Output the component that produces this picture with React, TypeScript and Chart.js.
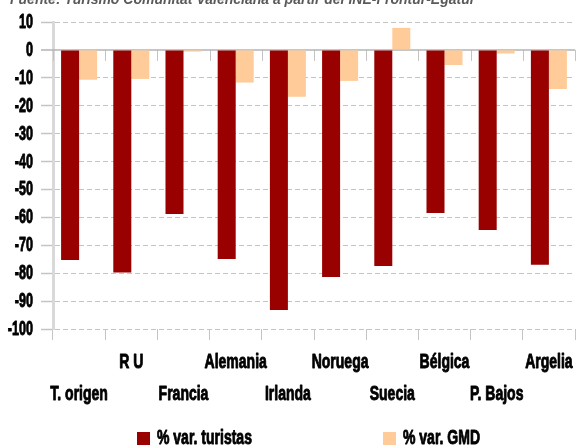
import React, { useEffect, useRef } from 'react';
import { Chart, registerables } from 'chart.js';

Chart.register(...registerables);

const categories = ['T. origen', 'R U', 'Francia', 'Alemania', 'Irlanda', 'Noruega', 'Suecia', 'Bélgica', 'P. Bajos', 'Argelia'];
const turistas = [-75.3, -79.8, -58.8, -74.9, -93.2, -81.4, -77.4, -58.4, -64.5, -77.0];
const gmd = [-10.7, -10.4, -0.6, -11.7, -16.8, -11.1, 7.9, -5.4, -1.3, -14.0];
const seriesNames = ['% var. turistas', '% var. GMD'];
const seriesColors = ['#990000', '#FFCC99'];
const yMin = -100;
const yMax = 10;
const yStep = 10;
const sourceNote = 'Fuente: Turismo Comunitat Valenciana a partir del INE-Frontur-Egatur';

const LABEL_FONT = "bold 20px 'Liberation Sans', Arial, sans-serif";
const X_SQUEEZE = 0.7;
const Y_SQUEEZE = 0.63;

function drawSqueezed(ctx: CanvasRenderingContext2D, text: string, x: number, y: number, align: CanvasTextAlign, sx: number) {
  ctx.save();
  ctx.translate(x, y);
  ctx.scale(sx, 1);
  ctx.textAlign = align;
  ctx.lineWidth = 0.9;
  ctx.lineJoin = 'round';
  ctx.strokeStyle = ctx.fillStyle as string;
  ctx.fillText(text, 0, 0);
  ctx.strokeText(text, 0, 0);
  ctx.restore();
}

const zeroLinePlugin = {
  id: 'zeroLine',
  beforeDatasetsDraw(chart: any) {
    const { ctx, chartArea, scales } = chart;
    const y0 = scales.y.getPixelForValue(0);
    const n = categories.length;
    const step = (chartArea.right - chartArea.left) / n;
    ctx.save();
    ctx.strokeStyle = '#c4c4c4';
    ctx.lineWidth = 1;
    for (let i = 0; i <= n; i++) {
      const x = Math.round(chartArea.left + i * step) + 0.5;
      ctx.beginPath();
      ctx.moveTo(x, y0);
      ctx.lineTo(x, y0 + 11);
      ctx.stroke();
    }
    ctx.strokeStyle = '#b3b3b3';
    ctx.lineWidth = 1.5;
    ctx.beginPath();
    ctx.moveTo(chartArea.left - 12, y0);
    ctx.lineTo(chartArea.right, y0);
    ctx.stroke();
    ctx.restore();
  },
};

const labelsPlugin = {
  id: 'squeezedLabels',
  afterDraw(chart: any) {
    const { ctx, chartArea, scales } = chart;
    ctx.save();
    // source note (clipped at the top, as in the original crop)
    ctx.font = "italic bold 14px 'Liberation Sans', Arial, sans-serif";
    ctx.fillStyle = '#5a5a5a';
    ctx.textBaseline = 'alphabetic';
    ctx.textAlign = 'left';
    ctx.fillText(sourceNote, 10, 4);

    ctx.font = LABEL_FONT;
    ctx.fillStyle = '#000';

    // y tick labels
    const ys = scales.y;
    ctx.textBaseline = 'middle';
    ys.ticks.forEach((t: any, i: number) => {
      const y = ys.getPixelForTick(i);
      drawSqueezed(ctx, String(t.value), chartArea.left - 20, y + 0.5, 'right', Y_SQUEEZE);
    });

    // x tick labels (two staggered rows)
    const xs = scales.x;
    ctx.textBaseline = 'alphabetic';
    categories.forEach((c, i) => {
      const x = xs.getPixelForTick(i);
      const y = chartArea.bottom + (i % 2 === 0 ? 70.5 : 38.5);
      drawSqueezed(ctx, c, x, y, 'center', X_SQUEEZE);
    });

    // legend
    const cx = (chartArea.left + chartArea.right) / 2;
    const offsets = [-177, 69];
    const boxTop = chart.height - 13;
    chart.data.datasets.forEach((ds: any, i: number) => {
      const bx = cx + offsets[i];
      ctx.fillStyle = ds.backgroundColor;
      ctx.fillRect(bx, boxTop, 13, 13);
      ctx.fillStyle = '#000';
      drawSqueezed(ctx, ds.label, bx + 20, chart.height - 0.7, 'left', X_SQUEEZE);
    });
    ctx.restore();
  },
};

export default function App() {
  const canvasRef = useRef<HTMLCanvasElement | null>(null);

  useEffect(() => {
    document.body.style.margin = '0';
    const canvas = canvasRef.current;
    if (!canvas) return;
    const chart = new Chart(canvas, {
      type: 'bar',
      data: {
        labels: categories,
        datasets: [
          { label: seriesNames[0], data: turistas, backgroundColor: seriesColors[0], borderWidth: 0, categoryPercentage: 0.69, barPercentage: 1 },
          { label: seriesNames[1], data: gmd, backgroundColor: seriesColors[1], borderWidth: 0, categoryPercentage: 0.69, barPercentage: 1 },
        ],
      },
      options: {
        responsive: false,
        animation: false,
        layout: { padding: { top: 22, right: 1, bottom: 105, left: 0 } },
        plugins: { legend: { display: false }, tooltip: { enabled: false }, title: { display: false } },
        scales: {
          x: {
            offset: true,
            grid: { offset: true, drawOnChartArea: false, drawTicks: true, tickLength: 11, color: '#c4c4c4', lineWidth: 1 },
            border: { display: false },
            ticks: { display: false, autoSkip: false, maxRotation: 0 },
          },
          y: {
            min: yMin,
            max: yMax,
            afterFit: (s: any) => { s.width = 53; },
            grid: {
              color: (c: any) => (c.tick && c.tick.value === 0 ? 'rgba(0,0,0,0)' : '#c4c4c4'),
              tickColor: (c: any) => (c.tick && c.tick.value === 0 ? 'rgba(0,0,0,0)' : '#c4c4c4'),
              lineWidth: 1,
              tickWidth: 1.5,
              tickLength: 12,
            },
            border: { display: true, color: '#d9d9d9', width: 3, dash: [5, 3] },
            ticks: { display: false, stepSize: yStep },
          },
        },
      },
      plugins: [zeroLinePlugin, labelsPlugin],
    } as any);
    return () => chart.destroy();
  }, []);

  return (
    <div style={{ width: 576, height: 445, position: 'relative' }}>
      <canvas ref={canvasRef} width={576} height={445} style={{ display: 'block' }} />
    </div>
  );
}
